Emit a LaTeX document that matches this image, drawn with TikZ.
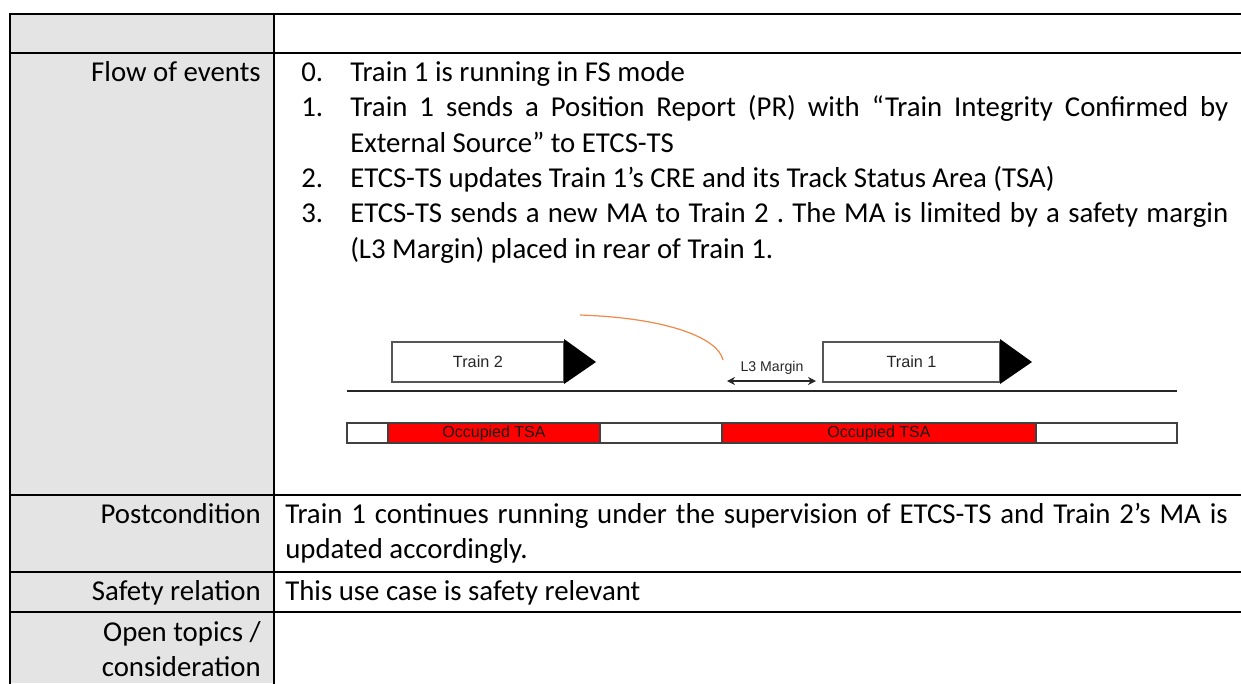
\documentclass[tikz,border=0pt]{standalone}
\usepackage{fontspec}
\setmainfont{Carlito}
\newfontfamily\diagfont{Liberation Sans}
\usetikzlibrary{arrows.meta}
\definecolor{cellgray}{HTML}{E4E4E4}
\definecolor{marginorange}{HTML}{F0894A}
\definecolor{tsared}{HTML}{FF0000}
\definecolor{boxedge}{HTML}{555555}
\frenchspacing
\begin{document}
\begin{tikzpicture}[x=0.75pt,y=-0.75pt,
  gridline/.style={line width=1.6pt,black,line cap=rect},
  rowlabel/.style={anchor=base east,inner sep=0pt,font=\fontsize{21.6}{26}\selectfont},
  bodytext/.style={anchor=base west,inner sep=0pt,font=\fontsize{21.6}{26}\selectfont},
  trainbox/.style={draw=boxedge,line width=0.8pt,fill=white,minimum height=30pt,inner sep=0pt,
                   font=\diagfont\fontsize{12.2}{14}\selectfont,text=black!85},
  tsabox/.style={draw=black!75,line width=0.8pt},
  tsalabel/.style={font=\diagfont\fontsize{12}{14}\selectfont,text=black!90,inner sep=0pt},
  marginlabel/.style={font=\diagfont\fontsize{10.6}{12}\selectfont,text=black!85,inner sep=0pt}]
\useasboundingbox (0,0) rectangle (1241,683);

% left column shading
\fill[cellgray] (10,14) rectangle (274,683);

% table rules
\draw[gridline] (10,14) -- (1241,14);
\draw[gridline] (10,53) -- (1241,53);
\draw[gridline] (10,495) -- (1241,495);
\draw[gridline] (10,572) -- (1241,572);
\draw[gridline] (10,612) -- (1241,612);
\draw[gridline] (10,14) -- (10,683);
\draw[gridline] (274,14) -- (274,683);

% row labels
\node[rowlabel] (lflow) at (261,81) {Flow of events};
\node[rowlabel] (lpost) at (261,523) {Postcondition};
\node[rowlabel] (lsafe) at (261,600) {Safety relation};
\node[rowlabel] (lopen1) at (261,641) {Open topics /};
\node[rowlabel] (lopen2) at (261,676) {consideration};

% flow of events list
\node[bodytext] (n0) at (301,81) {0.};
\node[bodytext] (t0) at (350,81) {Train 1 is running in FS mode};
\node[bodytext] (n1) at (301,116) {1.};
\node[bodytext] (t1) at (350,116) {\makebox[658.5pt][s]{Train 1 sends a Position Report (PR) with “Train Integrity Confirmed by}};
\node[bodytext] (t1b) at (350,152) {External Source” to ETCS-TS};
\node[bodytext] (n2) at (301,187) {2.};
\node[bodytext] (t2) at (350,187) {ETCS-TS updates Train 1’s CRE and its Track Status Area (TSA)};
\node[bodytext] (n3) at (301,222) {3.};
\node[bodytext] (t3) at (350,222) {\makebox[658.5pt][s]{ETCS-TS sends a new MA to Train 2 . The MA is limited by a safety margin}};
\node[bodytext] (t3b) at (350,258) {(L3 Margin) placed in rear of Train 1.};

% other rows
\node[bodytext] (p1) at (285,523) {\makebox[707pt][s]{Train 1 continues running under the supervision of ETCS-TS and Train 2’s MA is}};
\node[bodytext] (p2) at (285,558) {updated accordingly.};
\node[bodytext] (s1) at (285,600) {This use case is safety relevant};

% track diagram
\node[trainbox,minimum width=129pt] (train2) at (478,362) {Train 2};
\node[trainbox,minimum width=132.75pt] (train1) at (911.5,362) {Train 1};
\fill[black] (564,339) -- (596,362) -- (564,384) -- cycle;
\fill[black] (1000,339) -- (1032,362) -- (1000,384) -- cycle;

\coordinate (rail0) at (347,391);
\coordinate (rail1) at (1177,391);
\draw[line width=2.2pt,black!85] (rail0) -- (rail1);

\coordinate (m0) at (727,381);
\coordinate (m1) at (816,381);
\draw[line width=0.8pt,black!85,{Stealth[length=6pt,width=6pt]}-{Stealth[length=6pt,width=6pt]}] (m0) -- (m1);
\node[marginlabel] (l3) at (772,368) {L3 Margin};

\coordinate (arc0) at (580,315);
\coordinate (arc1) at (723,360);
\draw[marginorange,line width=0.9pt] (arc0) .. controls (668,318) and (718,338) .. (arc1);

% track status areas
\draw[tsabox,fill=white] (347,423) rectangle (1177,443);
\draw[tsabox,fill=tsared] (388,423) rectangle (600,443);
\draw[tsabox,fill=tsared] (722,423) rectangle (1036,443);
\node[tsalabel] (tsa1) at (494,433) {Occupied TSA};
\node[tsalabel] (tsa2) at (879,433) {Occupied TSA};
\end{tikzpicture}
\end{document}
